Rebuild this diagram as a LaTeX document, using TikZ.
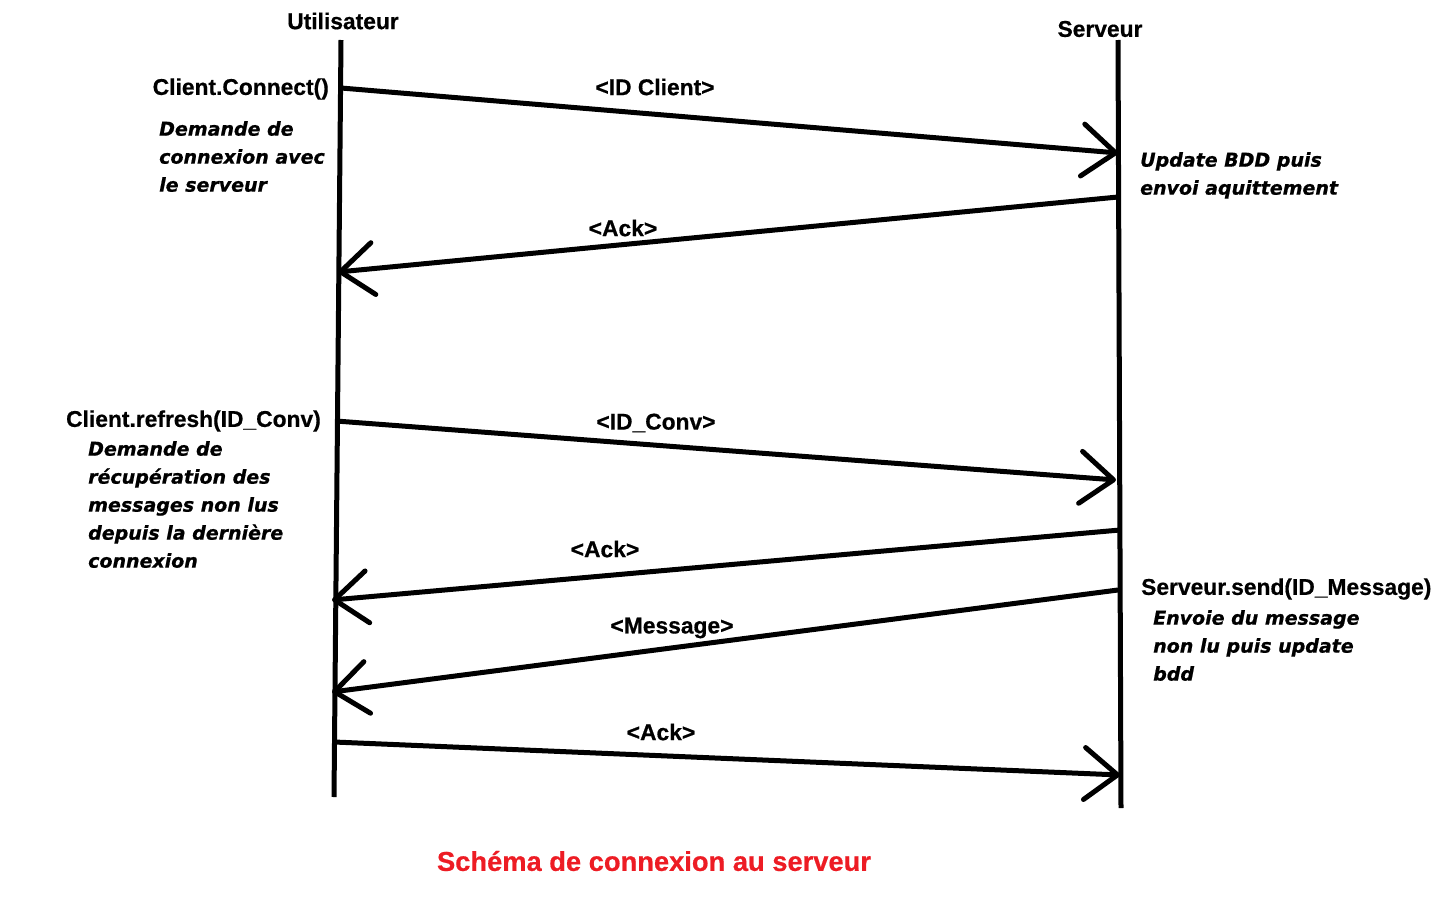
\documentclass[tikz,border=0pt]{standalone}
\usepackage{fontspec}
\setmainfont{Liberation Sans}[BoldFeatures={FakeBold=0.6}]
\newfontfamily\notefont{DejaVu Sans}[BoldItalicFeatures={FakeBold=0.8}]
\usepackage{tikz}
\usetikzlibrary{positioning,arrows.meta}
\definecolor{paintred}{RGB}{237,28,36}
\tikzset{%
  life/.style={%
    line width=5pt
  },
  msg/.style={%
    -{Straight Barb[length=33pt,width=52pt,round]},
    line width=5pt
  },
  lbl/.style={%
    font=\fontsize{22.8}{28}\selectfont\bfseries,
    inner sep=0pt
  },
  note/.style={%
    font=\notefont\fontsize{19}{28}\selectfont\bfseries\itshape,
    align=left,
    inner sep=0pt
  }
}

\begin{document}
\begin{tikzpicture}[x=1pt,y=-1pt]
    \useasboundingbox (0,0) rectangle (1446,902);

    % lignes de vie
    \coordinate (u0) at (341,40);
    \coordinate (u1) at (334,797);
    \coordinate (s0) at (1118,40);
    \coordinate (s1) at (1121,808);
    \draw[life] (u0) -- (u1);
    \draw[life] (s0) -- (s1);
    \node[lbl] (util) at (343,21) {Utilisateur};
    \node[lbl] (serv) at (1100,29) {Serveur};

    % connexion
    \coordinate (c1) at (341,88);
    \coordinate (c2) at (1118,153);
    \coordinate (c3) at (1118,197);
    \coordinate (c4) at (338,272);
    \draw[msg] (c1) -- (c2);
    \draw[msg] (c3) -- (c4);
    \node[lbl, anchor=east] (connect) at (329,89) {Client.Connect()};
    \node[note, anchor=north west] (connecttxt) at (159,121)
      {Demande de\\connexion avec\\le serveur};
    \node[lbl] (idclient) at (655,87) {<ID Client>};
    \node[note, anchor=north west] (updtxt) at (1140,152)
      {Update BDD puis\\envoi aquittement};
    \node[lbl] (ackA) at (623,228) {<Ack>};

    % refresh
    \coordinate (r1) at (336,421);
    \coordinate (r2) at (1116,480);
    \coordinate (r3) at (1120,530);
    \coordinate (r4) at (332,600);
    \draw[msg] (r1) -- (r2);
    \draw[msg] (r3) -- (r4);
    \node[lbl, anchor=east] (refresh) at (321,421) {Client.refresh(ID\_Conv)};
    \node[note, anchor=north west] (refreshtxt) at (88,441)
      {Demande de\\récupération des\\messages non lus\\depuis la dernière\\connexion};
    \node[lbl] (idconv) at (656,423) {<ID\_Conv>};
    \node[lbl] (ackB) at (605,549) {<Ack>};

    % envoi du message
    \coordinate (m1) at (1118,590);
    \coordinate (m2) at (332,692);
    \coordinate (m3) at (334,742);
    \coordinate (m4) at (1120,775);
    \draw[msg] (m1) -- (m2);
    \draw[msg] (m3) -- (m4);
    \node[lbl, anchor=west] (send) at (1141,589) {Serveur.send(ID\_Message)};
    \node[note, anchor=north west] (sendtxt) at (1153,610)
      {Envoie du message\\non lu puis update\\bdd};
    \node[lbl] (message) at (672,628) {<Message>};
    \node[lbl] (ackC) at (661,732) {<Ack>};

    \node[lbl, text=paintred, font=\fontsize{27.3}{32}\selectfont\bfseries] (titre)
      at (654,861) {Schéma de connexion au serveur};
\end{tikzpicture}
\end{document}
